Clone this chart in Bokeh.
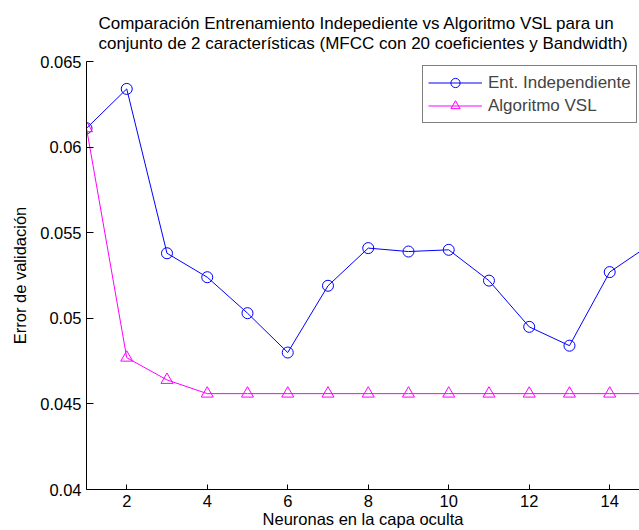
from bokeh.plotting import figure
from bokeh.models import Range1d, FixedTicker, Legend, LegendItem, Title
from bokeh.embed import file_html
from bokeh.resources import INLINE

# ---- data ----
neuronas = [1, 2, 3, 4, 5, 6, 7, 8, 9, 10, 11, 12, 13, 14, 15]
ent_independiente = [0.0611, 0.0634, 0.0538, 0.0524, 0.0503, 0.0480, 0.0519,
                     0.0541, 0.0539, 0.0540, 0.0522, 0.0495, 0.0484, 0.0527, 0.0543]
algoritmo_vsl = [0.0611, 0.0477, 0.0464, 0.0456, 0.0456, 0.0456, 0.0456,
                 0.0456, 0.0456, 0.0456, 0.0456, 0.0456, 0.0456, 0.0456, 0.0456]
x_ticks = [2, 4, 6, 8, 10, 12, 14]
y_ticks = [0.04, 0.045, 0.05, 0.055, 0.06, 0.065]
y_tick_labels = ["0.04", "0.045", "0.05", "0.055", "0.06", "0.065"]
title_lines = ["Comparación Entrenamiento Indepediente vs Algoritmo VSL para un",
               "conjunto de 2 características (MFCC con 20 coeficientes y Bandwidth)"]
x_label = "Neuronas en la capa oculta"
y_label = "Error de validación"
series_names = ["Ent. Independiente", "Algoritmo VSL"]

FONT = "Liberation Sans"
BLUE = "#0000ff"
MAGENTA = "#ff00ff"

p = figure(width=639, height=530, output_backend="svg", toolbar_location=None,
           x_range=Range1d(1, 14.74), y_range=Range1d(0.04, 0.065),
           min_border_left=86, min_border_right=0, min_border_top=61,
           min_border_bottom=41, title=None)
p.outline_line_color = None
p.grid.visible = False
p.background_fill_color = "white"
p.border_fill_color = "white"

for ax in (p.xaxis[0], p.yaxis[0]):
    ax.axis_line_color = "black"
    ax.major_tick_line_color = "black"
    ax.major_tick_out = 0
    ax.minor_tick_line_color = None
    ax.major_label_text_font = FONT
    ax.major_label_text_font_size = "16.5px"
    ax.major_label_text_color = "black"
    ax.axis_label_text_font = FONT
    ax.axis_label_text_font_size = "16.5px"
    ax.axis_label_text_font_style = "normal"
    ax.axis_label_text_color = "black"

p.xaxis.major_tick_in = 5
p.yaxis.major_tick_in = 7
p.xaxis.major_label_standoff = 5
p.yaxis.major_label_standoff = 5
p.xaxis.ticker = FixedTicker(ticks=x_ticks)
p.yaxis.ticker = FixedTicker(ticks=y_ticks)
p.yaxis.major_label_overrides = {t: l for t, l in zip(y_ticks, y_tick_labels)}
p.yaxis.axis_label = y_label
p.yaxis.axis_label_standoff = 8
p.xaxis.axis_label = x_label
p.xaxis.axis_label_standoff = 0

l1 = p.line(neuronas, ent_independiente, line_color=BLUE, line_width=1)
m1 = p.scatter(neuronas, ent_independiente, marker="circle", size=11,
               line_color=BLUE, fill_color=None, line_width=1)
l2 = p.line(neuronas, algoritmo_vsl, line_color=MAGENTA, line_width=1)
m2 = p.scatter(neuronas, algoritmo_vsl, marker="triangle", size=12,
               line_color=MAGENTA, fill_color=None, line_width=1)

legend = Legend(items=[LegendItem(label=series_names[0], renderers=[l1, m1]),
                       LegendItem(label=series_names[1], renderers=[l2, m2])],
                location=(336, 366))
legend.label_text_font = FONT
legend.label_text_font_size = "17px"
legend.label_height = 23
legend.glyph_height = 23
legend.glyph_width = 54
legend.label_standoff = 6
legend.spacing = 0
legend.padding = 5
legend.margin = 0
legend.border_line_color = "black"
legend.border_line_width = 1
legend.background_fill_alpha = 1
p.add_layout(legend, "center")

# two-line title in one block
p.add_layout(Title(text="\n".join(title_lines), align="center", offset=6,
                   text_font=FONT, text_font_size="17px",
                   text_font_style="normal", text_color="black",
                   text_line_height=1.05, standoff=17), "above")

open("out.html", "w").write(file_html(p, INLINE))
